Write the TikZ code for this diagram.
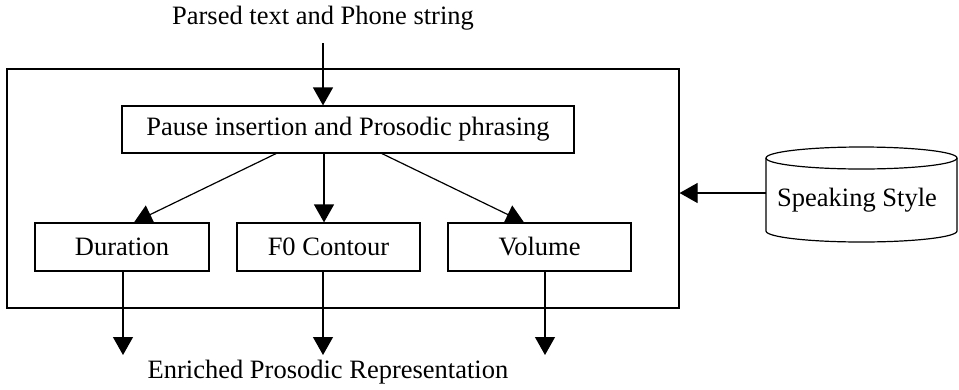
\documentclass[tikz,border=0pt]{standalone}
\usepackage{fontspec}
\setmainfont{Liberation Serif}
\usetikzlibrary{arrows.meta,calc}
\begin{document}
\begin{tikzpicture}[x=1pt,y=-1pt,
  every node/.style={font=\fontsize{26.5}{31}\selectfont, inner sep=0pt},
  box/.style={draw, line width=1.2pt, minimum height=48pt},
  arr/.style={line width=1.2pt, -{Triangle[length=18pt,width=20pt]}},
  ln/.style={line width=1.2pt}]
\useasboundingbox (0,0) rectangle (959,389);
% outer box
\node[draw, line width=1.2pt, minimum width=672pt, minimum height=239pt] (outer) at (343,188.5) {};
% texts
\node (top) at (323,18) {Parsed text and Phone string};
\node (bot) at (328,372) {Enriched Prosodic Representation};
% boxes
\node[box, minimum width=452pt, minimum height=47pt] (pause) at (348,129.5) {Pause insertion and Prosodic phrasing};
\node[box, minimum width=174pt] (dur) at (122,247) {Duration};
\node[box, minimum width=183pt] (f0) at (328.5,247) {F0 Contour};
\node[box, minimum width=183pt] (vol) at (539.5,247) {Volume};
% cylinder
\draw[ln] (766,158) -- (766,231) arc[start angle=180, end angle=0, x radius=95.5, y radius=11] -- (957,158);
\draw[ln] (861.5,158) ellipse[x radius=95.5, y radius=11];
\node (ss) at (857,200) {Speaking Style};
\coordinate (cylw) at (766,193);
% connectors
\coordinate (tin) at (323,43);
\draw[arr] (tin) -- (tin |- pause.north);
\draw[arr] ($(pause.south)+(-72,0)$) -- ($(dur.north)+(12,0)$);
\draw[arr] ($(pause.south)+(-24,0)$) -- ($(f0.north)+(-4.5,0)$);
\draw[arr] ($(pause.south)+(34,0)$) -- ($(vol.north)+(-15.5,0)$);
\coordinate (e1) at (123,355);
\coordinate (e2) at (323,355);
\coordinate (e3) at (545,355);
\draw[arr] (dur.south -| e1) -- (e1);
\draw[arr] (f0.south -| e2) -- (e2);
\draw[arr] (vol.south -| e3) -- (e3);
\draw[arr] (cylw) -- (cylw -| outer.east);
\end{tikzpicture}
\end{document}
